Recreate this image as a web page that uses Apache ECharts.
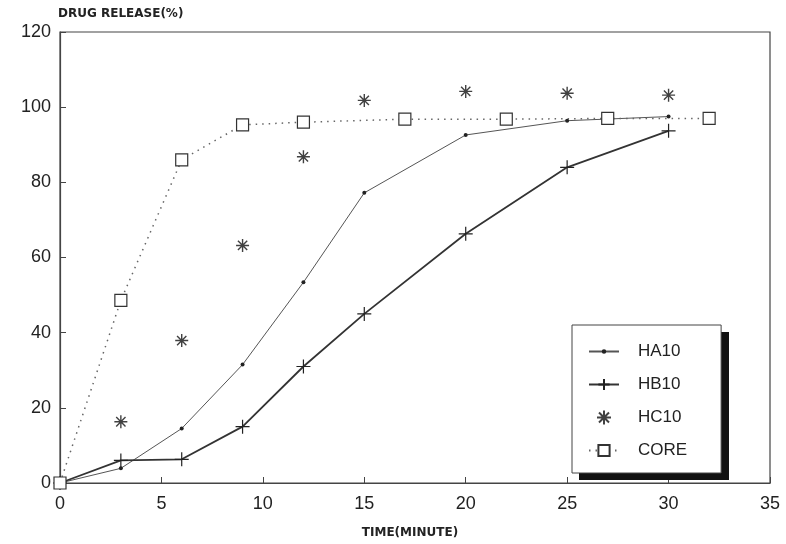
<!DOCTYPE html>
<html><head><meta charset="utf-8">
<script src="https://cdn.jsdelivr.net/npm/echarts@6/dist/echarts.min.js"></script>
<style>html,body{margin:0;padding:0;background:#fff}#c{width:786px;height:544px}</style>
</head><body><div id="c"></div>
<script>
const haTime = [0, 3, 6, 9, 12, 15, 20, 25, 30];
const ha10 = [0, 3.9, 14.5, 31.5, 53.4, 77.2, 92.6, 96.4, 97.5];
const hbTime = [0, 3, 6, 9, 12, 15, 20, 25, 30];
const hb10 = [0, 6.0, 6.3, 15.0, 31.0, 45.0, 66.3, 84.0, 93.7];
const hcTime = [3, 6, 9, 12, 15, 20, 25, 30];
const hc10 = [16.3, 37.9, 63.2, 86.8, 101.8, 104.2, 103.7, 103.2];
const coreTime = [0, 3, 6, 9, 12, 17, 22, 27, 32];
const core = [0, 48.6, 86.0, 95.3, 96.0, 96.8, 96.8, 97.0, 97.0];
const xTicks = [0, 5, 10, 15, 20, 25, 30, 35];
const yTicks = [0, 20, 40, 60, 80, 100, 120];

const pair = (xs, ys) => xs.map((x, i) => [x, ys[i]]);
const ink = '#222';
// small dot inside a 10x10 box (zero-length subpaths fix the box)
const dotPath = 'path://M0,0L0,0M10,10L10,10M3,5A2,2,0,1,1,7,5A2,2,0,1,1,3,5Z';
const plusPath = 'path://M0,7L14,7M7,0L7,14';
const starPath = 'path://M0,7L14,7M7,0L7,14M2,2L12,12M12,2L2,12';

const legLeft = 572, legTop = 325, legW = 150, legH = 148;

const chart = echarts.init(document.getElementById('c'), null, {renderer: 'canvas'});
chart.setOption({
  animation: false,
  backgroundColor: '#fff',
  grid: {left: 60, right: 16, top: 32, bottom: 56, show: true, borderColor: '#444', borderWidth: 1.2, backgroundColor: 'transparent'},
  xAxis: {
    type: 'value', min: xTicks[0], max: xTicks[xTicks.length - 1], interval: 5,
    name: 'TIME(MINUTE)', nameLocation: 'middle', nameGap: 44,
    nameTextStyle: {fontFamily: 'DejaVu Sans', fontWeight: 'bold', fontSize: 12, color: ink, padding: [0, 10, 0, 0]},
    axisLine: {lineStyle: {color: '#444', width: 1.2}},
    axisTick: {inside: true, length: 6, lineStyle: {color: '#444'}},
    axisLabel: {fontFamily: 'Liberation Sans', fontSize: 18, color: ink, margin: 12},
    splitLine: {show: false}
  },
  yAxis: {
    type: 'value', min: yTicks[0], max: yTicks[yTicks.length - 1], interval: 20,
    name: 'DRUG RELEASE(%)', nameLocation: 'end', nameGap: 12,
    nameTextStyle: {fontFamily: 'DejaVu Sans', fontWeight: 'bold', fontSize: 12, color: ink, align: 'left', padding: [0, 0, 0, -2]},
    axisLine: {show: true, lineStyle: {color: '#444', width: 1.2}},
    axisTick: {show: true, inside: true, length: 6, lineStyle: {color: '#444'}},
    axisLabel: {fontFamily: 'Liberation Sans', fontSize: 18, color: ink, margin: 9},
    splitLine: {show: false}
  },
  graphic: [{
    type: 'rect', z: 3, silent: true,
    shape: {x: legLeft + 7, y: legTop + 7, width: legW, height: legH},
    style: {fill: '#111'}
  }],
  legend: {
    orient: 'vertical', left: legLeft, top: legTop, z: 5,
    padding: [18, 34, 14, 16],
    itemWidth: 30, itemHeight: 14, itemGap: 16,
    backgroundColor: '#fff', borderColor: '#444', borderWidth: 1,
    textStyle: {fontFamily: 'Liberation Sans', fontSize: 17, color: ink, padding: [0, 0, 0, 14]},
    data: ['HA10', 'HB10', 'HC10', 'CORE']
  },
  series: [
    {name: 'HA10', type: 'line', data: pair(haTime, ha10), symbol: dotPath, symbolSize: 10,
     lineStyle: {color: '#555', width: 1}, itemStyle: {color: ink}},
    {name: 'HB10', type: 'line', data: pair(hbTime, hb10), symbol: plusPath, symbolSize: 14,
     lineStyle: {color: '#333', width: 1.8}, itemStyle: {color: ink, borderColor: ink, borderWidth: 1.2}},
    {name: 'HC10', type: 'scatter', data: pair(hcTime, hc10), symbol: starPath, symbolSize: 13,
     itemStyle: {color: ink, borderColor: '#111', borderWidth: 1.4}},
    {name: 'CORE', type: 'line', data: pair(coreTime, core), symbol: 'rect', symbolSize: 12,
     lineStyle: {color: '#666', width: 1.5, type: [1.5, 5]},
     itemStyle: {color: '#fff', borderColor: '#333', borderWidth: 1.2}}
  ]
});
</script>
</body></html>
